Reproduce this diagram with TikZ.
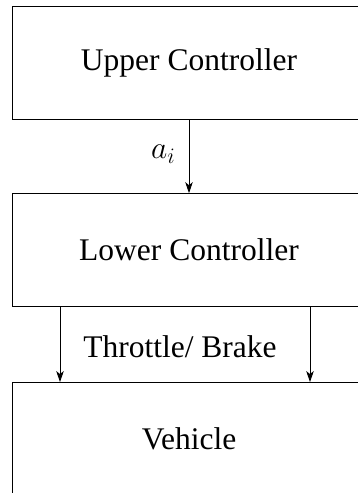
\RequirePackage{fix-cm}
\documentclass[tikz,border=0pt]{standalone}
\usepackage{fontspec}
\setmainfont{Liberation Serif}
\usetikzlibrary{arrows.meta, positioning}

\begin{document}
\begin{tikzpicture}[
    x=1pt, y=1pt,
    every node/.style={font=\fontsize{31.5}{38}\selectfont},
    bloc/.style={draw, rectangle, line width=0.9pt, minimum width=354pt, minimum height=112.5pt, inner sep=0pt},
    fleche/.style={-{Stealth[length=11pt, width=7.5pt, inset=3pt]}, line width=0.9pt}
]
\clip (0,0) rectangle (358,493);

% Blocs
\node[bloc] (upper) at (189, 430) {Upper Controller};
\node[bloc, below=73.5pt of upper] (lower) {Lower Controller};
\node[bloc, below=75.5pt of lower] (vehicle) {Vehicle};

% Consigne
\draw[fleche] (upper) -- node[left, xshift=-10pt, yshift=2pt]{$a_i$} (lower);

% Commandes
\draw[fleche] ([xshift=-129pt]lower.south) -- ([xshift=-129pt]vehicle.north);
\draw[fleche] ([xshift=121pt]lower.south) -- ([xshift=121pt]vehicle.north);
\path (lower) -- node[xshift=-9pt, yshift=-2pt]{Throttle/ Brake} (vehicle);

\end{tikzpicture}
\end{document}
